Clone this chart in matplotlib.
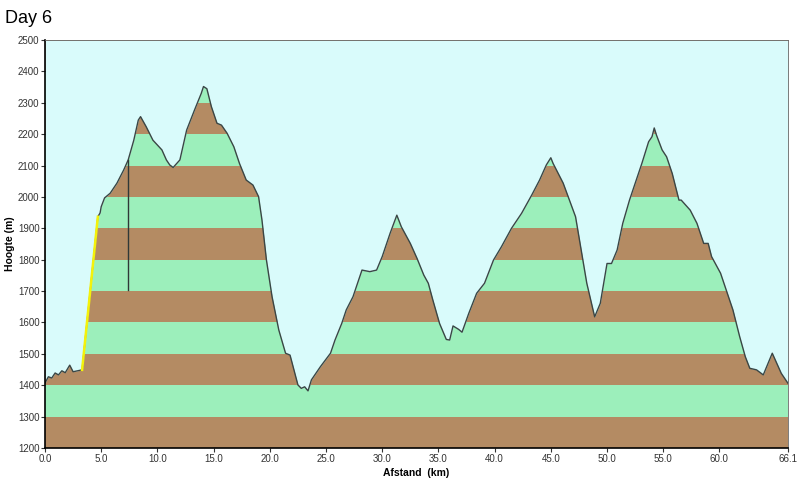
import numpy as np
import matplotlib
matplotlib.use('Agg')
import matplotlib.pyplot as plt

plt.rcParams['font.family'] = ['Liberation Sans', 'DejaVu Sans']

# Elevation profile (km, m)
dist_km = [0.0, 0.3, 0.6, 0.9, 1.2, 1.5, 1.8, 2.2, 2.5, 3.3, 4.7, 4.9, 5.0, 5.3, 5.8,
           6.4, 7.0, 7.4, 7.9, 8.3, 8.5, 9.0, 9.6, 10.4, 10.8, 11.1, 11.4, 12.0, 12.6,
           13.3, 13.9, 14.1, 14.4, 14.8, 15.3, 15.7, 16.2, 16.8, 17.3, 17.9, 18.5,
           19.0, 19.3, 19.7, 20.2, 20.8, 21.4, 21.8, 22.5, 22.8, 23.1, 23.4, 23.7,
           24.5, 25.4, 25.8, 26.4, 26.8, 27.4, 27.9, 28.2, 28.9, 29.5, 30.0, 30.7,
           31.3, 31.7, 32.5, 33.1, 33.7, 34.1, 34.5, 35.1, 35.7, 36.0, 36.3, 36.8,
           37.1, 37.7, 38.4, 39.1, 39.9, 40.6, 41.5, 42.4, 43.3, 44.0, 44.6, 45.0,
           45.2, 46.1, 47.2, 47.7, 48.2, 48.9, 49.4, 50.0, 50.4, 50.9, 51.4, 52.0,
           52.6, 53.1, 53.7, 54.0, 54.2, 54.4, 54.9, 55.3, 55.8, 56.4, 56.6, 57.4,
           58.0, 58.6, 59.0, 59.3, 60.1, 60.6, 61.2, 61.8, 62.3, 62.7, 63.3, 63.9,
           64.2, 64.7, 65.1, 65.5, 66.1]
elev_m = [1407, 1427, 1423, 1439, 1433, 1446, 1440, 1464, 1443, 1449, 1937, 1949,
          1969, 1997, 2012, 2044, 2086, 2118, 2181, 2245, 2256, 2224, 2181, 2150,
          2118, 2102, 2094, 2118, 2213, 2277, 2330, 2352, 2345, 2288, 2235, 2229,
          2203, 2160, 2107, 2054, 2038, 2001, 1927, 1799, 1682, 1576, 1502, 1496,
          1401, 1390, 1395, 1382, 1417, 1459, 1502, 1544, 1597, 1640, 1682, 1735,
          1767, 1762, 1767, 1810, 1884, 1942, 1905, 1852, 1804, 1751, 1725, 1672,
          1597, 1546, 1544, 1589, 1578, 1569, 1629, 1693, 1725, 1799, 1841, 1900,
          1948, 2006, 2054, 2102, 2125, 2107, 2044, 1937, 1831, 1725, 1618, 1661,
          1788, 1788, 1831, 1916, 1990, 2054, 2107, 2176, 2192, 2220, 2197, 2150,
          2128, 2075, 1990, 1990, 1958, 1916, 1852, 1852, 1810, 1757, 1704, 1640,
          1555, 1491, 1454, 1449, 1433, 1459, 1502, 1470, 1438, 1406]

# Highlighted climb segment (yellow) and vertical marker
climb_km = [3.3, 4.7]
climb_m = [1449, 1937]
marker_km = 7.4
marker_m = [1705, 2118]

x_ticks = [0, 5, 10, 15, 20, 25, 30, 35, 40, 45, 50, 55, 60, 66.1]
y_ticks = list(range(1200, 2501, 100))

brown = '#b48b63'
green = '#9cefbb'
sky = '#d9fbfb'

fig = plt.figure(figsize=(8, 4.83), dpi=100)
ax = fig.add_axes([0.05625, 0.0725, 0.92875, 0.8445])

# Alternating 100 m bands
for i, lo in enumerate(y_ticks[:-1]):
    ax.axhspan(lo, lo + 100, color=brown if i % 2 == 0 else green, lw=0, zorder=0)

# Sky above the profile
ax.fill_between(dist_km, elev_m, 2500, color=sky, lw=0, zorder=1)
ax.plot(dist_km, elev_m, color='#3a4645', lw=1.0, zorder=2)
ax.plot(climb_km, climb_m, color='#f4f20a', lw=1.8, zorder=3)
ax.plot([marker_km, marker_km], marker_m, color='#2f3837', lw=1.0, zorder=3)

ax.set_xlim(0, 66.1)
ax.set_ylim(1200, 2500)
ax.set_xticks(x_ticks)
ax.set_xticklabels(['%.1f' % t for t in x_ticks])
ax.set_yticks(y_ticks)
ax.tick_params(labelsize=7, length=3, colors='#333333', pad=1)

for s in ['left', 'bottom']:
    ax.spines[s].set_linewidth(1.2)
    ax.spines[s].set_color('black')
for s in ['top', 'right']:
    ax.spines[s].set_linewidth(0.6)
    ax.spines[s].set_color('#666666')

ax.set_xlabel('Afstand  (km)', fontsize=7.5, fontweight='bold', labelpad=3)
ax.set_ylabel('Hoogte (m)', fontsize=7.5, fontweight='bold', labelpad=2)

fig.text(0.006, 0.962, 'Day 6', fontsize=13, va='center', ha='left')

fig.savefig('out.png', dpi=100)
